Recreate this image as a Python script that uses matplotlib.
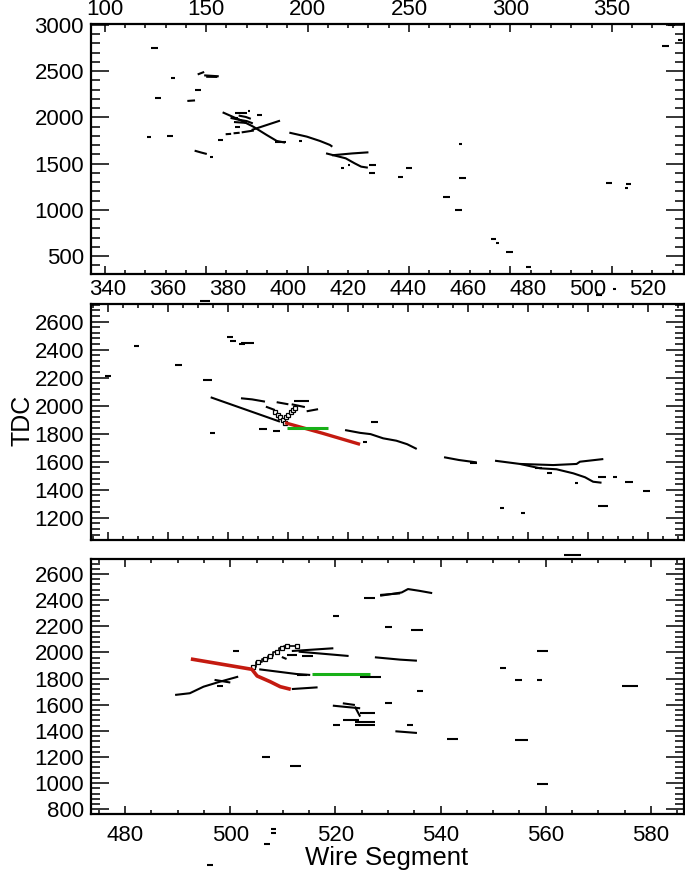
import matplotlib
matplotlib.use('Agg')
import matplotlib.pyplot as plt
from matplotlib.ticker import MultipleLocator

plt.rcParams['font.family'] = ['Liberation Sans', 'DejaVu Sans']

# ---------------- data (wire segment, TDC) ----------------
# Panel 1 : hits / track pieces (each entry is one polyline)
p1_x = [[122.7, 126.4], [132.8, 134.6], [124.8, 127.6], [145.8, 149.0], [149.0, 156.2],
        [150.0, 155.5], [144.5, 147.3], [140.7, 144.5], [120.7, 122.6], [130.5, 133.5],
        [144.3, 147.5, 150.3], [151.9, 153.5], [155.8, 158.3], [159.6, 162.3], [163.5, 166.5],
        [167.5, 173.5], [158.1, 166.7, 173.2, 179.8, 184.8, 188.9], [172.4, 186.4],
        [164.2, 170.0], [163.7, 170.0], [162.0, 166.0, 170.0, 173.0], [166.0, 169.5, 172.0],
        [174.9, 177.4], [170.5, 171.8], [164.4, 166.6], [164.8, 165.8], [184.0, 189.5],
        [195.8, 197.1], [191.0, 199.6, 206.1, 211.0, 212.2],
        [209.1, 218.8, 223.2, 226.4, 229.7], [212.0, 222.0, 230.0], [216.3, 217.9],
        [220.0, 221.0], [230.5, 233.5], [230.3, 233.2], [248.5, 251.3], [244.7, 247.2],
        [274.6, 276.1], [274.6, 278.3], [266.8, 270.3], [272.9, 276.1], [290.6, 292.8],
        [292.8, 294.5], [297.7, 301.4], [307.5, 310.0], [347.0, 350.2], [357.2, 359.3],
        [356.5, 358.0], [374.9, 378.3], [382.6, 384.4], [377.7, 381.0]]
p1_y = [[2748, 2748], [2430, 2430], [2213, 2213], [2465, 2492], [2455, 2445],
        [2440, 2438], [2297, 2297], [2178, 2184], [1791, 1791], [1802, 1802],
        [1640, 1620, 1604], [1575, 1575], [1755, 1755], [1818, 1822], [1828, 1834],
        [1838, 1858], [2055, 1972, 1900, 1810, 1745, 1727], [1864, 1965],
        [2044, 2044], [1950, 1940], [1995, 1975, 1960, 1935], [2020, 2005, 1985],
        [2026, 2026], [2070, 2070], [1900, 1900], [1990, 1990], [1730, 1730],
        [1748, 1748], [1835, 1792, 1745, 1702, 1683],
        [1611, 1557, 1503, 1467, 1456], [1590, 1610, 1622], [1449, 1449],
        [1490, 1490], [1485, 1485], [1402, 1402], [1449, 1449], [1352, 1352],
        [1712, 1712], [1341, 1341], [1142, 1142], [1001, 1001], [680, 680],
        [637, 637], [540, 540], [381, 381], [1294, 1294], [1276, 1276],
        [1240, 1240], [2776, 2776], [2838, 2838], [3005, 3005]]

# Panel 2
p2_x = [[339.0, 340.9], [348.8, 350.2], [362.3, 364.8], [371.8, 374.7], [374.0, 375.6],
        [379.6, 381.5], [380.5, 382.5], [384.2, 388.6], [383.5, 385.5],
        [374.2, 397.3], [384.3, 388.0, 392.3], [392.6, 395.6], [396.2, 400.1],
        [401.2, 405.6], [402.0, 407.0], [406.2, 410.0], [390.4, 393.1], [395.0, 397.3],
        [419.0, 424.0, 427.5, 431.7, 436.1, 439.7, 442.9], [424.9, 426.2], [427.8, 430.0],
        [452.0, 457.0, 462.9], [460.6, 462.9],
        [469.0, 477.3, 484.0, 489.5, 495.1, 499.0, 501.7, 504.5],
        [477.3, 488.4, 496.2, 497.3, 505.1], [482.3, 484.5], [486.4, 487.9], [495.6, 496.7],
        [503.4, 506.0], [508.4, 509.7], [512.3, 514.9], [518.4, 520.6], [503.4, 506.7],
        [470.6, 472.0], [477.5, 478.9],
        [370.7, 374.0], [508.3, 509.3], [502.6, 504.6]]
p2_y = [[2210, 2210], [2428, 2428], [2293, 2293], [2180, 2180], [1803, 1803],
        [2490, 2490], [2460, 2460], [2451, 2451], [2440, 2440],
        [2060, 1886], [2053, 2045, 2029], [1993, 1969], [2025, 2010],
        [2010, 1990], [2030, 2030], [1960, 1975], [1833, 1833], [1817, 1817],
        [1826, 1806, 1797, 1767, 1750, 1725, 1691], [1743, 1743], [1886, 1886],
        [1632, 1612, 1595], [1593, 1593],
        [1607, 1584, 1553, 1546, 1517, 1489, 1457, 1450],
        [1584, 1576, 1584, 1600, 1619], [1553, 1553], [1522, 1522], [1446, 1446],
        [1489, 1489], [1489, 1489], [1453, 1453], [1393, 1393], [1284, 1284],
        [1267, 1267], [1231, 1231],
        [2746, 2746], [2836, 2836], [2792, 2792]]
# open-box hit chains in panel 2
p2_box_x = [[395.6, 396.5, 397.4, 398.2, 399.0], [399.3, 400.1, 401.0, 401.8, 402.3]]
p2_box_y = [[1957, 1937, 1917, 1898, 1878], [1921, 1937, 1953, 1969, 1981]]
p2_red_x = [399.0, 411.5, 424.0]
p2_red_y = [1878, 1803, 1724]
p2_green_x = [399.7, 413.4]
p2_green_y = [1843, 1843]

# Panel 3
p3_x = [[563.4, 566.7], [525.5, 527.6], [528.5, 532.6, 533.8, 535.9, 538.4], [528.5, 532.3],
        [519.6, 520.7], [529.4, 530.7], [534.3, 536.6], [500.6, 501.7], [558.4, 560.4],
        [551.3, 552.5], [554.2, 555.5], [558.4, 559.2], [574.6, 577.6], [535.5, 536.6],
        [529.4, 530.7], [533.6, 534.7], [519.6, 520.9], [541.3, 543.4], [554.2, 556.7],
        [531.4, 535.5], [506.0, 507.5], [511.4, 513.5], [558.4, 560.4],
        [519.5, 522.0, 524.7], [521.4, 523.7], [523.7, 524.7], [524.7, 527.5], [521.5, 524.4],
        [523.7, 527.5], [523.7, 527.5],
        [489.5, 492.3, 494.9, 498.0, 501.5], [497.0, 500.0], [497.4, 498.7],
        [505.5, 512.6, 515.2], [512.6, 514.5], [524.7, 528.6], [511.7, 516.6],
        [509.8, 510.7], [510.7, 512.6], [513.6, 515.7], [511.7, 519.6], [513.0, 522.5],
        [527.5, 532.3, 535.5],
        [506.4, 507.6], [507.7, 508.6], [507.7, 508.6], [495.6, 496.7]]
p3_y = [[2746, 2746], [2414, 2414], [2434, 2459, 2485, 2472, 2454], [2440, 2452],
        [2281, 2281], [2197, 2197], [2172, 2172], [2014, 2014], [2009, 2009],
        [1880, 1880], [1793, 1793], [1788, 1788], [1747, 1747], [1704, 1704],
        [1611, 1611], [1443, 1443], [1443, 1443], [1340, 1340], [1333, 1333],
        [1397, 1384], [1197, 1197], [1128, 1128], [992, 992],
        [1593, 1583, 1573], [1611, 1598], [1585, 1509], [1535, 1535], [1483, 1483],
        [1470, 1470], [1448, 1448],
        [1675, 1688, 1738, 1776, 1815], [1790, 1770], [1742, 1742],
        [1871, 1835, 1828], [1825, 1825], [1810, 1810], [1720, 1733],
        [1965, 1950], [1980, 1980], [1973, 1973], [2011, 2032], [2006, 1973],
        [1963, 1945, 1937],
        [534, 534], [646, 646], [616, 616], [372, 372]]
p3_box_x = [504.3, 505.3, 506.6, 507.6, 508.8, 509.8, 510.7, 512.6]
p3_box_y = [1891, 1929, 1948, 1973, 2006, 2032, 2049, 2049]
p3_red_x = [492.5, 504.1, 505.1, 507.6, 509.5, 511.5]
p3_red_y = [1950, 1871, 1820, 1776, 1738, 1718]
p3_green_x = [515.5, 526.6]
p3_green_y = [1833, 1833]

# axis settings per panel
xlims = [(93.2, 385.6), (334.3, 532.0), (473.5, 586.3)]
ylims = [(305, 3011), (1041, 2726), (764, 2715)]
xmajor = [50, 20, 20]
xminor = [10, 5, 5]
ymajor = [500, 200, 200]
yminor = [100, 40, 40]

RED = '#c41a10'
GREEN = '#18b018'

fig = plt.figure(figsize=(6.85, 8.72), dpi=100)
L, W = 91 / 685, 593 / 685
boxes = [(274, 250), (540, 236), (814, 255)]
axes = []
for bottom_px, h_px in boxes:
    axes.append(fig.add_axes([L, 1 - bottom_px / 872, W, h_px / 872]))

def draw_lines(ax, xs, ys, color='black', lw=1.5):
    for x, y in zip(xs, ys):
        ax.plot(x, y, color=color, lw=lw, solid_capstyle='butt', clip_on=False)

draw_lines(axes[0], p1_x, p1_y)

draw_lines(axes[1], p2_x, p2_y)
for bx, by in zip(p2_box_x, p2_box_y):
    axes[1].plot(bx, by, color='black', lw=1.0, marker='s', ms=3.2,
                 mfc='white', mec='black', mew=0.9)
axes[1].plot(p2_red_x, p2_red_y, color=RED, lw=2.4, solid_capstyle='butt')
axes[1].plot(p2_green_x, p2_green_y, color=GREEN, lw=2.2, solid_capstyle='butt')

draw_lines(axes[2], p3_x, p3_y)
axes[2].plot(p3_box_x, p3_box_y, color='black', lw=1.2, drawstyle='steps-mid',
             marker='s', ms=3.5, mfc='white', mec='black', mew=0.9)
axes[2].plot(p3_red_x, p3_red_y, color=RED, lw=2.6, solid_capstyle='butt')
axes[2].plot(p3_green_x, p3_green_y, color=GREEN, lw=2.2, solid_capstyle='butt')

for i, ax in enumerate(axes):
    ax.set_xlim(*xlims[i])
    ax.set_ylim(*ylims[i])
    ax.xaxis.set_major_locator(MultipleLocator(xmajor[i]))
    ax.xaxis.set_minor_locator(MultipleLocator(xminor[i]))
    ax.yaxis.set_major_locator(MultipleLocator(ymajor[i]))
    ax.yaxis.set_minor_locator(MultipleLocator(yminor[i]))
    for s in ax.spines.values():
        s.set_linewidth(1.6)
    ax.tick_params(which='both', direction='in', top=True, right=True, width=1.1,
                   labelsize=16)
    ax.tick_params(axis='y', which='major', length=13, pad=5)
    ax.tick_params(axis='y', which='minor', length=6.5)
    ax.tick_params(axis='x', which='major', length=6)
    ax.tick_params(axis='x', which='minor', length=3)
    if i < 2:
        ax.tick_params(axis='x', labeltop=True, labelbottom=False, pad=3)
    else:
        ax.tick_params(axis='x', labeltop=False, labelbottom=True, pad=8)

fig.text(22 / 685, 1 - 420 / 872, 'TDC', rotation=90, fontsize=18,
         ha='center', va='center')
fig.text(387 / 685, 1 - 858 / 872, 'Wire Segment', fontsize=18.5,
         ha='center', va='center')

fig.savefig('out.png', dpi=100)
